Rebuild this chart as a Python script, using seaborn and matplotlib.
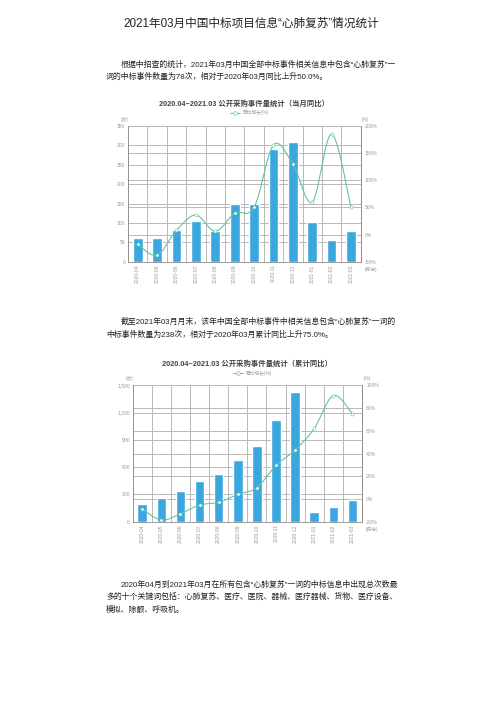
import numpy as np
import pandas as pd
import matplotlib
matplotlib.use("Agg")
import matplotlib.pyplot as plt
import seaborn as sns
from matplotlib.lines import Line2D

# ---------------- data ----------------
months = ["2020-04", "2020-05", "2020-06", "2020-07", "2020-08", "2020-09",
          "2020-10", "2020-11", "2020-12", "2021-01", "2021-02", "2021-03"]
monthly_counts = [60, 60, 83, 105, 80, 150, 150, 290, 308, 103, 57, 78]
monthly_yoy = [-18, -38, 8, 36, 6, 39, 50, 165, 130, 60, 185, 50]
cum_counts = [200, 260, 343, 448, 528, 678, 828, 1118, 1426, 103, 160, 238]
cum_yoy = [-9, -18.5, -13, -5.3, -3, 4, 10, 29.6, 43, 62, 91, 75]

left_ticks1 = [0, 50, 100, 150, 200, 250, 300, 350]
right_ticks1 = [-50, 0, 50, 100, 150, 200]
left_ticks2 = [0, 300, 600, 900, 1200, 1500]
right_ticks2 = [-20, 0, 20, 40, 60, 80, 100]

page_title = "2021年03月中国中标项目信息“心肺复苏”情况统计"
chart1_title = "2020.04~2021.03 公开采购事件量统计（当月同比）"
chart2_title = "2020.04~2021.03 公开采购事件量统计（累计同比）"
legend_label = "同比增长(%)"
para1 = ["根据中招查的统计，2021年03月中国全部中标事件相关信息中包含“心肺复苏”一",
         "词的中标事件数量为78次，相对于2020年03月同比上升50.0%。"]
para2 = ["截至2021年03月月末，该年中国全部中标事件中相关信息包含“心肺复苏”一词的",
         "中标事件数量为238次，相对于2020年03月累计同比上升75.0%。"]
para3 = ["2020年04月到2021年03月在所有包含“心肺复苏”一词的中标信息中出现总次数最",
         "多的十个关键词包括：心肺复苏、医疗、医院、器械、医疗器械、货物、医疗设备、",
         "模拟、除颤、呼吸机。"]

# ---------------- style ----------------
sns.set_theme(style="white")
plt.rcParams['font.family'] = ['Liberation Sans', 'Noto Sans CJK SC', 'DejaVu Sans']
plt.rcParams['axes.unicode_minus'] = False

BAR = "#3BA7DF"
LINE = "#66C2A5"
GRID = "#B8B8B8"
TICK = "#9A9A9A"

W, H = 504, 713
fig = plt.figure(figsize=(W / 100, H / 100), dpi=100)
fig.patch.set_facecolor("white")


def px(x, y):
    return x / W, 1 - y / H


def text_px(x, y, s, **kw):
    fx, fy = px(x, y)
    fig.text(fx, fy, s, **kw)


def smooth(xs, ys, n=30):
    xs = np.asarray(xs, float)
    ys = np.asarray(ys, float)
    P = np.column_stack([xs, ys])
    P = np.vstack([P[0], P, P[-1]])
    out = []
    for i in range(1, len(P) - 2):
        p0, p1, p2, p3 = P[i - 1], P[i], P[i + 1], P[i + 2]
        t = np.linspace(0, 1, n, endpoint=False)[:, None]
        seg = 0.5 * ((2 * p1) + (-p0 + p2) * t + (2 * p0 - 5 * p1 + 4 * p2 - p3) * t ** 2
                     + (-p0 + 3 * p1 - 3 * p2 + p3) * t ** 3)
        out.append(seg)
    out.append(P[-2][None, :])
    out = np.vstack(out)
    return out[:, 0], out[:, 1]


def make_chart(left, right, top, bottom, counts, yoy, lticks, rticks, ltick_fmt,
               title, title_y, legend_y):
    x0, y0 = px(left, bottom)
    ax = fig.add_axes([x0, y0, (right - left) / W, (bottom - top) / H])
    df = pd.DataFrame({"month": months, "count": counts, "yoy": yoy})
    sns.barplot(data=df, x="month", y="count", color=BAR, width=0.5,
                saturation=1, ax=ax, zorder=3)
    ax.set_xlim(-0.5, len(months) - 0.5)
    ax.set_ylim(lticks[0], lticks[-1])
    ax.set_yticks(lticks)
    ax.set_yticklabels([ltick_fmt(v) for v in lticks], fontsize=3.6, color=TICK)
    ax.set_xticks(range(len(months)))
    ax.set_xticklabels(months, rotation=90, fontsize=3.6, color=TICK)
    ax.tick_params(axis="both", length=0, pad=2)
    ax.set_xlabel("")
    ax.set_ylabel("")
    for s in ax.spines.values():
        s.set_color("#8C8C8C")
        s.set_linewidth(0.6)
    ax.spines["top"].set_visible(False)
    # gridlines (both axes' ticks), drawn beneath the bars
    for v in lticks[1:]:
        ax.axhline(v, color=GRID, lw=0.7, zorder=1)
    lmin, lmax = lticks[0], lticks[-1]
    rmin, rmax = rticks[0], rticks[-1]
    for v in rticks[1:-1]:
        ax.axhline(lmin + (v - rmin) / (rmax - rmin) * (lmax - lmin),
                   color=GRID, lw=0.7, zorder=1)
    for k in range(len(months) + 1):
        ax.axvline(k - 0.5, color=GRID, lw=0.7, zorder=1)

    ax2 = ax.twinx()
    ax2.patch.set_visible(False)
    ax2.set_ylim(rmin, rmax)
    ax2.set_yticks(rticks)
    ax2.set_yticklabels([f"{v}%" for v in rticks], fontsize=3.6, color=TICK)
    ax2.tick_params(axis="y", length=0, pad=3)
    for s in ax2.spines.values():
        s.set_visible(False)
    ax2.spines["right"].set_visible(True)
    ax2.spines["right"].set_color("#8C8C8C")
    ax2.spines["right"].set_linewidth(0.6)
    sx, sy = smooth(range(len(months)), yoy)
    ax2.plot(sx, sy, color=LINE, lw=0.8, zorder=4)
    sns.scatterplot(x=list(range(len(months))), y=yoy, ax=ax2, s=5,
                    color="white", edgecolor=LINE, linewidth=0.4, zorder=5)
    ax2.set_xlim(-0.5, len(months) - 0.5)
    ax2.set_ylim(rmin, rmax)

    cx = (left + right) / 2
    text_px(cx, title_y, title, ha="center", va="center", fontsize=5.3,
            color="#444444", fontweight="bold")
    lx, ly = px(cx - 14, legend_y)
    lx2, _ = px(cx - 4, legend_y)
    fig.add_artist(Line2D([lx, lx2], [ly, ly], color=LINE, lw=0.7,
                          transform=fig.transFigure))
    fig.add_artist(Line2D([(lx + lx2) / 2], [ly], marker="o", ms=2.6,
                          mfc="white", mec=LINE, mew=0.5,
                          transform=fig.transFigure))
    text_px(cx - 2, legend_y, legend_label, ha="left", va="center",
            fontsize=3.4, color="#999999")
    text_px(left - 3, top - 7, "(次)", ha="center", va="center", fontsize=3.4,
            color=TICK)
    text_px(right + 5, top - 7, "(%)", ha="center", va="center", fontsize=3.4,
            color=TICK)
    text_px(right + 10, bottom + 8, "(月份)", ha="center", va="center",
            fontsize=3.4, color=TICK)
    return ax


make_chart(128, 360.7, 126, 261.7, monthly_counts, monthly_yoy,
           left_ticks1, right_ticks1, lambda v: f"{v}",
           chart1_title, 104.5, 112.5)
make_chart(132.7, 362, 385.3, 521.7, cum_counts, cum_yoy,
           left_ticks2, right_ticks2, lambda v: f"{v:,}",
           chart2_title, 364.5, 373)

# ---------------- page texts ----------------
text_px(251, 24, page_title, ha="center", va="center", fontsize=8.4, color="#222222")

BODY = 5.7
def para(lines, y0, step=12.5):
    for i, s in enumerate(lines):
        x = 120.5 if i == 0 else 106
        text_px(x, y0 + i * step, s, ha="left", va="center", fontsize=BODY,
                color="#222222")

para(para1, 64.5)
para(para2, 322)
para(para3, 584.5)

fig.savefig("out.png", dpi=100, facecolor="white")
